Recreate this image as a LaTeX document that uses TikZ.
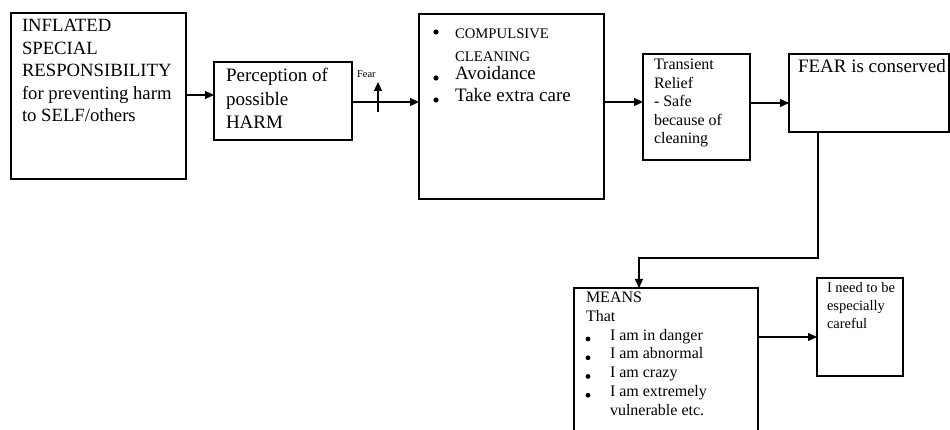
\documentclass[tikz,border=0pt]{standalone}
\usepackage{fontspec}
\setmainfont{Liberation Serif}
\usetikzlibrary{arrows.meta}
\newcommand{\mytab}[1]{\begin{tabular}[t]{@{}l@{}}#1\end{tabular}}
\begin{document}
\begin{tikzpicture}[x=1pt,y=-1pt,
  box/.style={draw, line width=1.2pt, inner sep=0pt, outer sep=0pt},
  txt/.style={inner sep=0pt, outer sep=0pt, anchor=base west},
  arr/.style={line width=1.2pt, -{Triangle[length=9pt,width=8pt]}},
  bul/.style={fill=black}]
\useasboundingbox (0,0) rectangle (950,430);
\clip (0,0) rectangle (950,430);
% boxes
\node[box, minimum width=175pt, minimum height=166pt] (b1) at (98.5,96) {};
\node[box, minimum width=138pt, minimum height=78pt] (b2) at (283,101) {};
\node[box, minimum width=185pt, minimum height=185pt] (b3) at (511.5,106.5) {};
\node[box, minimum width=107pt, minimum height=106pt] (b4) at (696.5,107) {};
\node[box, minimum width=160pt, minimum height=78pt] (b5) at (869,93) {};
\node[box, minimum width=184pt, minimum height=157pt] (b6) at (666,366.5) {};
\node[box, minimum width=86pt, minimum height=98pt] (b7) at (860,327) {};
% texts
\node[txt, font=\fontsize{18.7}{22.5}\selectfont] (t1) at (22,32)
  {\mytab{INFLATED\\SPECIAL\\RESPONSIBILITY\\for preventing harm\\to SELF/others}};
\node[txt, font=\fontsize{19}{23.5}\selectfont] (t2) at (226,82)
  {\mytab{Perception of\\possible\\HARM}};
\node[txt, font=\fontsize{14.7}{23}\selectfont] (t3a) at (455,39)
  {\mytab{COMPULSIVE\\CLEANING}};
\node[txt, font=\fontsize{19}{22}\selectfont] (t3b) at (455,80) {Avoidance};
\node[txt, font=\fontsize{19}{22}\selectfont] (t3c) at (455,102) {Take extra care};
\fill[bul] (436,32) circle (2.6);
\fill[bul] (436,78) circle (2.6);
\fill[bul] (436,100) circle (2.6);
\node[txt, font=\fontsize{16}{18.4}\selectfont] (t4) at (654,70)
  {\mytab{Transient\\Relief\\- Safe\\because of\\cleaning}};
\node[txt, font=\fontsize{19}{22}\selectfont] (t5) at (798,73) {FEAR is conserved};
\node[txt, font=\fontsize{16}{19}\selectfont] (t6a) at (586,302)
  {\mytab{MEANS\\That}};
\node[txt, font=\fontsize{16}{18.75}\selectfont] (t6b) at (610,340)
  {\mytab{I am in danger\\I am abnormal\\I am crazy\\I am extremely\\vulnerable etc.}};
\fill[bul] (588,339) circle (2.4);
\fill[bul] (588,357.75) circle (2.4);
\fill[bul] (588,376.5) circle (2.4);
\fill[bul] (588,395.25) circle (2.4);
\node[txt, font=\fontsize{14.5}{18.3}\selectfont] (t7) at (827,292)
  {\mytab{I need to be\\especially\\careful}};
\node[txt, font=\fontsize{10.5}{12}\selectfont] (fear) at (357,78) {Fear};
% connectors
\coordinate (row) at (0,102);
\draw[arr] (b1.east |- 0,95) -- (b2.west |- 0,95);
\draw[arr] (b2.east |- row) -- (b3.west |- row);
\draw[arr] (b3.east |- row) -- (b4.west |- row);
\draw[arr] (b4.east |- 0,103) -- (b5.west |- 0,103);
\coordinate (fb) at (378,112);
\coordinate (ft) at (378,82);
\draw[arr] (fb) -- (ft);
\coordinate (k1) at (818,258);
\coordinate (k2) at (639,258);
\draw[arr] (k1 |- b5.south) -- (k1) -- (k2) -- (k2 |- b6.north);
\draw[arr] (757,337) -- (b7.west |- 0,337);
\end{tikzpicture}
\end{document}
